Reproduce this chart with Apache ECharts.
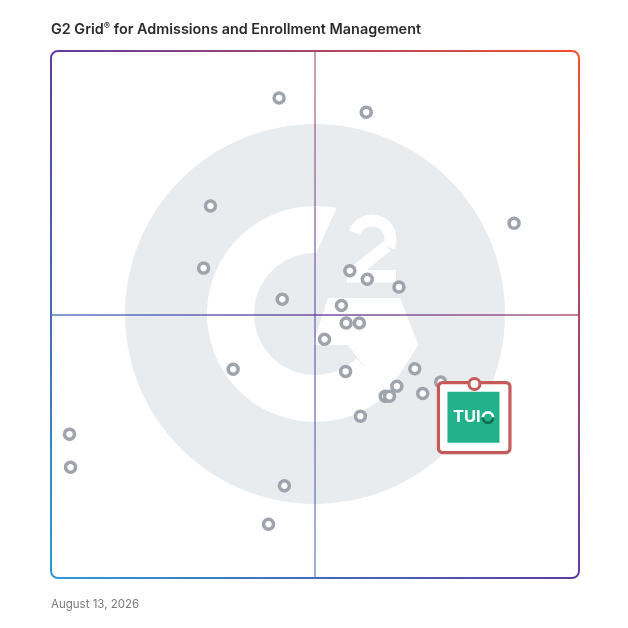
<!DOCTYPE html>
<html><head><meta charset="utf-8">
<script src="https://cdn.jsdelivr.net/npm/echarts@6/dist/echarts.min.js"></script>
<style>html,body{margin:0;padding:0;background:#fff}#c{width:628px;height:628px}</style>
</head><body><div id="c"></div>
<script>
// ---- data ----
const titleText = 'G2 Grid{r|®} for Admissions and Enrollment Management';
const dateText = 'August 13, 2026';
// x = satisfaction, y = market presence (0..100, midpoint 50)
const vendorX = [43.2, 59.7, 30.2, 87.7, 28.9, 56.6, 59.9, 65.9, 43.8, 55.0, 55.9, 58.4, 51.8, 34.5, 68.9, 55.8, 73.8, 65.5, 63.3, 64.1, 70.4, 58.6, 3.5, 3.7, 44.2, 41.2];
const vendorY = [91.1, 88.4, 70.6, 67.3, 58.8, 58.3, 56.7, 55.2, 52.9, 51.7, 48.4, 48.4, 45.3, 39.6, 39.7, 39.2, 37.2, 36.4, 34.5, 34.5, 35.0, 30.7, 27.3, 21.0, 17.5, 10.2];
const featuredName = ['TUIO'];
const featuredX = [80.2];
const featuredY = [36.8];
const axisMin = 0, axisMax = 100, midpoint = 50;

// ---- layout / style ----
const G = {left: 51, top: 51, width: 528, height: 527};
const cx = G.left + G.width / 2, cy = G.top + G.height / 2 - 0.5;
function borderGrad() {
  return {type: 'linear', global: true, x: G.left + G.width, y: G.top, x2: G.left, y2: G.top + G.height,
    colorStops: [{offset: 0, color: '#f4512b'}, {offset: 0.5, color: '#5f3ca2'}, {offset: 1, color: '#2a9bd7'}]};
}
const deg = Math.PI / 180;
const logoGrey = '#e9ecef';
const P = (dx, dy) => [cx + dx, cy + dy];

const chart = echarts.init(document.getElementById('c'), null, {renderer: 'canvas'});
chart.setOption({
  animation: false,
  backgroundColor: '#fff',
  title: [
    {text: titleText, left: G.left, top: 21, padding: 0,
      textStyle: {fontFamily: 'Inter', fontSize: 14.4, fontWeight: 600, color: '#2b2b2b', lineHeight: 18,
        rich: {r: {fontFamily: 'Inter', fontSize: 9.5, fontWeight: 600, color: '#2b2b2b', lineHeight: 12, verticalAlign: 'top'}}}},
    {text: dateText, left: G.left, top: 599, padding: 0,
      textStyle: {fontFamily: 'Inter', fontSize: 11.5, fontWeight: 'normal', color: '#7a7a7a'}}
  ],
  grid: {left: G.left, top: G.top, width: G.width, height: G.height, containLabel: false},
  xAxis: {type: 'value', min: axisMin, max: axisMax, show: false},
  yAxis: {type: 'value', min: axisMin, max: axisMax, show: false},
  graphic: [
    {type: 'circle', z: 0, silent: true, shape: {cx: cx, cy: cy, r: 190}, style: {fill: logoGrey}},
    {type: 'sector', z: 0, silent: true, shape: {cx: cx, cy: cy, r0: 61, r: 108, startAngle: 47 * deg, endAngle: 271.6 * deg, clockwise: true}, style: {fill: '#fff'}},
    {type: 'polygon', z: 0, silent: true, shape: {points: [P(1.7, -62), P(3, -107.9), P(9.4, -107.6), P(15, -107), P(21.7, -106.3)]}, style: {fill: '#fff'}},
    {type: 'polygon', z: 0, silent: true, shape: {points: [P(13, -16), P(85, -16), P(103.3, 31), P(71, 81.5), P(33, 31), P(-2.3, 31)]}, style: {fill: '#fff'}},
    {type: 'arc', z: 0, silent: true, shape: {cx: cx + 57, cy: cy - 75, r: 18.5, startAngle: 200 * deg, endAngle: 385 * deg, clockwise: true}, style: {stroke: '#fff', lineWidth: 12, fill: null}},
    {type: 'line', z: 0, silent: true, shape: {x1: cx + 72, y1: cy - 68, x2: cx + 37, y2: cy - 40}, style: {stroke: '#fff', lineWidth: 12}},
    {type: 'rect', z: 0, silent: true, shape: {x: cx + 32, y: cy - 44, width: 49, height: 12.5}, style: {fill: '#fff'}},
    {type: 'rect', z: 100, silent: true, shape: {x: G.left, y: G.top, width: G.width, height: G.height, r: 7}, style: {fill: null, stroke: borderGrad(), lineWidth: 2}}
  ],
  series: [
    {
      type: 'scatter', z: 3,
      data: vendorX.map((x, i) => [x, vendorY[i]]),
      symbol: 'circle', symbolSize: 10,
      itemStyle: {color: '#fff', borderColor: '#9ea3ae', borderWidth: 3.5, opacity: 1},
      emphasis: {disabled: true},
      markLine: {
        silent: true, symbol: 'none', label: {show: false},
        data: [
          {xAxis: midpoint, lineStyle: {color: borderGrad(), width: 1.5, type: 'solid', opacity: 0.7}},
          {yAxis: midpoint, lineStyle: {color: borderGrad(), width: 1.5, type: 'solid', opacity: 0.9}}
        ]
      }
    },
    {
      type: 'custom', z: 5,
      data: featuredX.map((x, i) => [x, featuredY[i], featuredName[i]]),
      renderItem: function (params, api) {
        const p = api.coord([api.value(0), api.value(1)]);
        const name = api.value(2);
        const x = p[0], y = p[1];
        return {type: 'group', children: [
          {type: 'rect', shape: {x: x - 36, y: y - 1.5, width: 71.5, height: 70, r: 4}, style: {fill: '#fff', stroke: '#c45a5a', lineWidth: 3.2}},
          {type: 'rect', shape: {x: x - 27, y: y + 7.7, width: 52, height: 51}, style: {fill: '#22b28b'}},
          {type: 'text', x: x - 21.5, y: y + 33, style: {text: String(name).slice(0, 3), fill: '#fff', font: 'bold 16.5px Inter', textVerticalAlign: 'middle', textAlign: 'left'}},
          {type: 'arc', shape: {cx: x + 13.5, cy: y + 33.5, r: 5.2, startAngle: 180 * deg, endAngle: 360 * deg, clockwise: true}, style: {stroke: '#fff', lineWidth: 2.6, fill: null}},
          {type: 'arc', shape: {cx: x + 13.5, cy: y + 33.5, r: 5.2, startAngle: 0, endAngle: 180 * deg, clockwise: true}, style: {stroke: '#0f6b52', lineWidth: 2.6, fill: null}},
          {type: 'circle', shape: {cx: x, cy: y, r: 5.5}, style: {fill: '#fff', stroke: '#c45a5a', lineWidth: 3}}
        ]};
      }
    }
  ]
});
</script></body></html>
